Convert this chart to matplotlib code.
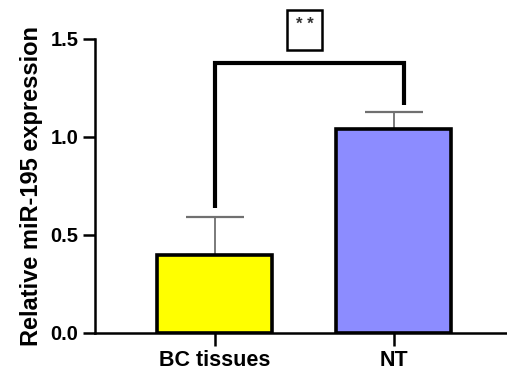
import matplotlib.pyplot as plt
from matplotlib.patches import Rectangle

plt.rcParams['font.family'] = ['Liberation Sans', 'DejaVu Sans']
plt.rcParams['font.weight'] = 'bold'

groups = ['BC tissues', 'NT']
means = [0.40, 1.04]
errs = [0.19, 0.09]
colors = ['#FFFF00', '#8C8CFF']
ytick_vals = [0.0, 0.5, 1.0, 1.5]

fig = plt.figure(figsize=(5.07, 3.75), dpi=100)
ax = fig.add_axes([0.1874, 0.112, 0.8126, 0.784])

pos = list(range(len(groups)))
ax.bar(pos, means, width=0.642, color=colors, edgecolor='black', linewidth=2.6, zorder=2)
ax.errorbar(pos, means, yerr=[[0, 0], errs], fmt='none', ecolor='#707070',
            elinewidth=1.3, capsize=21, capthick=1.6, zorder=1)

# significance bracket
ax.plot([0, 0, 1.059, 1.059], [0.638, 1.378, 1.378, 1.163], color='black',
        linewidth=3, solid_capstyle='butt', solid_joinstyle='miter', clip_on=False)
box = Rectangle((0.405, 1.444), 0.196, 0.204, facecolor='white', edgecolor='black',
                linewidth=1.8, clip_on=False)
ax.add_patch(box)
ax.text(0.503, 1.572, '* *', ha='center', va='center', fontsize=12, color='#333333',
        fontweight='bold', clip_on=False)

ax.set_xlim(-0.668, 1.634)
ax.set_ylim(0, 1.5)
ax.set_yticks(ytick_vals)
ax.set_yticklabels([f'{v:.1f}' for v in ytick_vals])
ax.set_xticks(pos)
ax.set_xticklabels(groups, fontsize=15.5)
ax.set_ylabel('Relative miR-195 expression', fontsize=17, fontweight='bold', labelpad=5)

for s in ['top', 'right']:
    ax.spines[s].set_visible(False)
for s in ['left', 'bottom']:
    ax.spines[s].set_linewidth(1.8)
ax.tick_params(axis='both', width=1.8, length=9, pad=3)
ax.tick_params(axis='y', labelsize=14.5)

fig.savefig('out.png', dpi=100)
